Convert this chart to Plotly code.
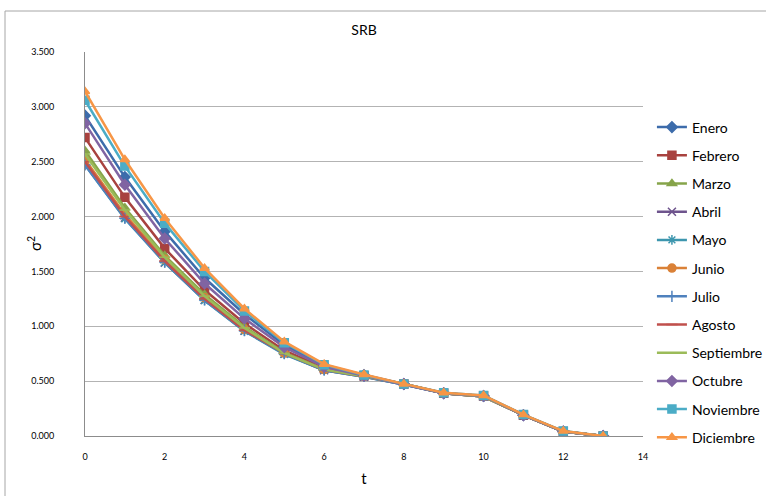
import plotly.graph_objects as go

t = list(range(14))
months = ["Enero", "Febrero", "Marzo", "Abril", "Mayo", "Junio", "Julio",
          "Agosto", "Septiembre", "Octubre", "Noviembre", "Diciembre"]

enero      = [2.92, 2.36, 1.865, 1.44, 1.11, 0.83, 0.64, 0.555, 0.475, 0.39, 0.365, 0.19, 0.04, 0.0]
febrero    = [2.72, 2.175, 1.71, 1.33, 1.025, 0.78, 0.62, 0.55, 0.475, 0.39, 0.365, 0.19, 0.04, 0.0]
marzo      = [2.60, 2.08, 1.645, 1.29, 0.995, 0.76, 0.61, 0.55, 0.475, 0.39, 0.365, 0.19, 0.04, 0.0]
abril      = [2.48, 1.99, 1.58, 1.24, 0.96, 0.75, 0.60, 0.54, 0.47, 0.39, 0.36, 0.19, 0.04, 0.0]
mayo       = [2.47, 1.98, 1.58, 1.235, 0.955, 0.745, 0.60, 0.54, 0.47, 0.39, 0.36, 0.19, 0.04, 0.0]
junio      = [2.52, 2.02, 1.61, 1.26, 0.97, 0.755, 0.605, 0.545, 0.475, 0.39, 0.36, 0.19, 0.04, 0.0]
julio      = [2.47, 1.985, 1.585, 1.24, 0.96, 0.75, 0.60, 0.545, 0.47, 0.39, 0.36, 0.19, 0.04, 0.0]
agosto     = [2.50, 2.00, 1.595, 1.25, 0.965, 0.755, 0.605, 0.545, 0.475, 0.39, 0.36, 0.19, 0.04, 0.0]
septiembre = [2.57, 2.06, 1.63, 1.275, 0.985, 0.755, 0.605, 0.545, 0.475, 0.39, 0.36, 0.19, 0.04, 0.0]
octubre    = [2.85, 2.29, 1.80, 1.39, 1.07, 0.81, 0.63, 0.55, 0.475, 0.39, 0.365, 0.19, 0.04, 0.0]
noviembre  = [3.06, 2.46, 1.94, 1.50, 1.14, 0.85, 0.65, 0.555, 0.475, 0.395, 0.37, 0.195, 0.045, 0.0]
diciembre  = [3.14, 2.52, 1.985, 1.53, 1.16, 0.86, 0.655, 0.56, 0.475, 0.395, 0.37, 0.195, 0.045, 0.0]

series = [enero, febrero, marzo, abril, mayo, junio, julio, agosto,
          septiembre, octubre, noviembre, diciembre]

colors = ["#3D6CAB", "#A8423F", "#86A44A", "#6E548D", "#3D96AE", "#DA8137",
          "#4F81BD", "#C0504D", "#9BBB59", "#8064A2", "#4BACC6", "#F79646"]
symbols = ["diamond", "square", "triangle-up", "x-thin-open", "asterisk-open", "circle",
           "cross-thin-open", "line-ew-open", "line-ew-open", "diamond", "square", "triangle-up"]

FONT = "Lato"
fig = go.Figure()
for name, vals, c, s in zip(months, series, colors, symbols):
    fig.add_trace(go.Scatter(
        x=t, y=vals, name=name, mode="lines+markers", legendgroup=name,
        line=dict(color=c, width=2.5),
        marker=dict(symbol=s, size=8, color=c, line=dict(color=c, width=1.5)),
    ))

fig.update_layout(
    width=766, height=496,
    margin=dict(l=85, r=123, t=52, b=60, autoexpand=False),
    paper_bgcolor="white", plot_bgcolor="white",
    font=dict(family=FONT, color="#000000"),
    title=dict(text="SRB", x=(85 + 643) / 2 / 766, xanchor="center", y=1 - 30 / 496,
               yanchor="middle", font=dict(size=14, family=FONT, color="#000000")),
    legend=dict(x=1.016, y=0.845, xanchor="left", yanchor="top",
                font=dict(size=14, family=FONT, color="#000000"),
                tracegroupgap=7, bgcolor="rgba(0,0,0,0)"),
    xaxis=dict(range=[0, 14], dtick=2, tick0=0, showgrid=False, zeroline=False,
               showline=True, linecolor="#8C8C8C", linewidth=1,
               ticks="", ticklabelstandoff=12,
               tickfont=dict(size=9, family=FONT, color="#000000"),
               title=dict(text="t", font=dict(size=15, family=FONT), standoff=12)),
    yaxis=dict(range=[0, 3.5], dtick=0.5, tick0=0, tickformat=".3f",
               showgrid=True, gridcolor="#B3B3B3", gridwidth=1, zeroline=False,
               showline=True, linecolor="#8C8C8C", linewidth=1,
               ticks="", ticklabelstandoff=28,
               tickfont=dict(size=9, family=FONT, color="#000000")),
    annotations=[dict(text="σ<sup>2</sup>", xref="paper", yref="paper",
                      x=(34 - 85) / 558, y=0.5, xanchor="center", yanchor="middle",
                      textangle=-90, showarrow=False,
                      font=dict(size=15, family=FONT, color="#000000"))],
    shapes=[dict(type="rect", xref="paper", yref="paper",
                 x0=(5 - 85) / 558, x1=(770 - 85) / 558,
                 y0=(436 - 500) / 384, y1=1 + (52 - 11) / 384,
                 line=dict(color="#A6A6A6", width=1), layer="below")],
)

fig.write_html("out.html")
